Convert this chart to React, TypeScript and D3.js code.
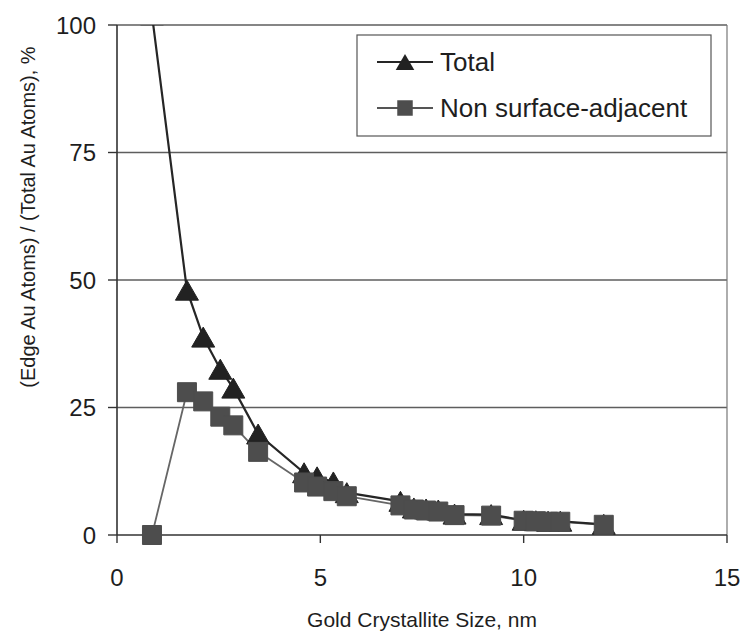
import React from "react";
import * as d3 from "d3";

const totalX = [0.86, 1.72, 2.12, 2.54, 2.86, 3.47, 4.6, 4.92, 5.32, 5.65, 6.97, 7.3, 7.6, 7.9, 8.3, 9.2, 10.0, 10.3, 10.6, 10.9, 11.97];
const totalY = [102, 48.0, 38.8, 32.5, 28.8, 19.8, 12.2, 11.4, 10.4, 8.3, 6.6, 5.3, 5.1, 4.9, 4.1, 4.0, 2.9, 2.8, 2.7, 2.7, 2.1];
const nsaX = [0.86, 1.72, 2.12, 2.54, 2.86, 3.47, 4.6, 4.92, 5.32, 5.65, 6.97, 7.3, 7.6, 7.9, 8.3, 9.2, 10.0, 10.3, 10.6, 10.9, 11.97];
const nsaY = [0, 28.0, 26.2, 23.2, 21.5, 16.3, 10.3, 9.5, 8.6, 7.6, 5.8, 5.0, 4.8, 4.6, 3.9, 3.8, 2.8, 2.7, 2.6, 2.6, 2.0];
const xTicks = [0, 5, 10, 15];
const yTicks = [0, 25, 50, 75, 100];
const seriesNames = ["Total", "Non surface-adjacent"];
const xTitle = "Gold Crystallite Size, nm";
const yTitle = "(Edge Au Atoms) / (Total Au Atoms), %";

const W = 747;
const H = 632;
const L = 117, R = 727, T = 25, B = 535;
const FONT = "'Liberation Sans', Arial, sans-serif";

// Excel-style triangle: centered on its bounding box
const boxTriangle = {
  draw(context: any, size: number) {
    const h = Math.sqrt(size * 0.87);
    const w = h * 1.15;
    context.moveTo(0, -h / 2);
    context.lineTo(w / 2, h / 2);
    context.lineTo(-w / 2, h / 2);
    context.closePath();
  },
};

export default function App() {
  const x = d3.scaleLinear().domain([0, 15]).range([L, R]);
  const y = d3.scaleLinear().domain([0, 100]).range([B, T]);
  const total = totalX.map((v, i) => [v, totalY[i]] as [number, number]);
  const nsa = nsaX.map((v, i) => [v, nsaY[i]] as [number, number]);
  const line = d3.line<[number, number]>().x(d => x(d[0])).y(d => y(d[1]));
  const tri = d3.symbol().type(boxTriangle as any).size(460)() as string;
  const sq = d3.symbol().type(d3.symbolSquare).size(361)() as string;
  const triSmall = d3.symbol().type(boxTriangle as any).size(300)() as string;
  const sqSmall = d3.symbol().type(d3.symbolSquare).size(240)() as string;

  return (
    <svg width={W} height={H} style={{ position: "absolute", left: 0, top: 0, background: "#fff" }} fontFamily={FONT}>
      <defs>
        <clipPath id="plotclip">
          <rect x={L - 20} y={T} width={R - L + 40} height={B - T + 30} />
        </clipPath>
      </defs>
      <rect x={0} y={0} width={W} height={H} fill="#fff" />
      {yTicks.filter(t => t > 0).map(t => (
        <line key={t} x1={L} x2={R} y1={y(t)} y2={y(t)} stroke="#5e5e5e" strokeWidth={1.5} />
      ))}
      <line x1={R} x2={R} y1={T} y2={B} stroke="#777" strokeWidth={1.2} />
      <line x1={L} x2={L} y1={T} y2={B} stroke="#333" strokeWidth={1.6} />
      <line x1={L} x2={R} y1={B} y2={B} stroke="#333" strokeWidth={1.6} />
      {yTicks.map(t => (
        <g key={t}>
          <line x1={L - 9} x2={L} y1={y(t)} y2={y(t)} stroke="#333" strokeWidth={1.4} />
          <text x={96} y={y(t)} dy="0.36em" textAnchor="end" fontSize={24} fill="#1e1e1e">{t}</text>
        </g>
      ))}
      {xTicks.map(t => (
        <g key={t}>
          <line x1={x(t)} x2={x(t)} y1={B} y2={B + 8} stroke="#333" strokeWidth={1.4} />
          <text x={x(t)} y={577} dy="0.36em" textAnchor="middle" fontSize={24} fill="#1e1e1e">{t}</text>
        </g>
      ))}
      <text x={(L + R) / 2} y={619} dy="0.36em" textAnchor="middle" fontSize={21} fill="#1e1e1e">{xTitle}</text>
      <text transform={`translate(28,217) rotate(-90)`} dy="0.36em" textAnchor="middle" fontSize={20} fill="#1e1e1e">{yTitle}</text>

      <g clipPath="url(#plotclip)">
        <path d={line(nsa) as string} fill="none" stroke="#666" strokeWidth={1.8} />
        <path d={line(total) as string} fill="none" stroke="#262626" strokeWidth={2.2} />
        {total.map((d, i) => (
          <path key={"t" + i} d={tri} transform={`translate(${x(d[0])},${y(d[1])})`} fill="#222" stroke="#222" strokeWidth={1} />
        ))}
        {nsa.map((d, i) => (
          <path key={"s" + i} d={sq} transform={`translate(${x(d[0])},${y(d[1])})`} fill="#4d4d4d" stroke="#4d4d4d" strokeWidth={1} />
        ))}
      </g>

      <rect x={357} y={35} width={354} height={101} fill="#fff" stroke="#555" strokeWidth={1.2} />
      <line x1={377} x2={433} y1={62} y2={62} stroke="#262626" strokeWidth={2.2} />
      <path d={triSmall} transform="translate(405,62)" fill="#222" />
      <text x={440} y={62} dy="0.36em" fontSize={26} fill="#1e1e1e">{seriesNames[0]}</text>
      <line x1={377} x2={433} y1={108} y2={108} stroke="#555" strokeWidth={1.8} />
      <path d={sqSmall} transform="translate(405,108)" fill="#4d4d4d" />
      <text x={440} y={108} dy="0.36em" fontSize={26} fill="#1e1e1e">{seriesNames[1]}</text>
    </svg>
  );
}
